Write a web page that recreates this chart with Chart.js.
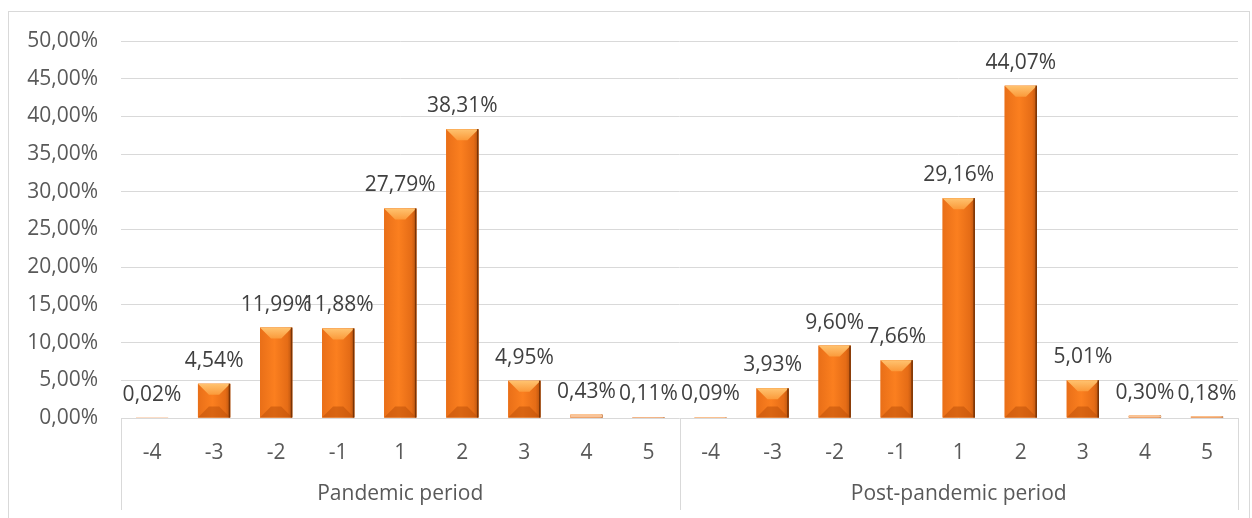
<!DOCTYPE html>
<html>
<head>
<meta charset="utf-8">
<script src="https://cdn.jsdelivr.net/npm/chart.js@4/dist/chart.umd.min.js"></script>
<style>
  html, body { margin: 0; padding: 0; background: #fff; }
  #wrap { width: 1252px; height: 518px; position: relative; }
</style>
</head>
<body>
<div id="wrap"><canvas id="chart" width="1252" height="518"></canvas></div>
<script>
// data
var categories = ["-4", "-3", "-2", "-1", "1", "2", "3", "4", "5"];
var groups = ["Pandemic period", "Post-pandemic period"];
var pandemicValues = [0.02, 4.54, 11.99, 11.88, 27.79, 38.31, 4.95, 0.43, 0.11];
var postValues = [0.09, 3.93, 9.60, 7.66, 29.16, 44.07, 5.01, 0.30, 0.18];
var yTicks = [0, 5, 10, 15, 20, 25, 30, 35, 40, 45, 50];

var FONT = "'Open Sans', sans-serif";

function pct(v) {
    return v.toFixed(2).replace(".", ",") + "%";
}

var labels = categories.concat(categories);
var values = pandemicValues.concat(postValues);

/*
** Outer frame, bar shading, value labels and the group axis
*/
var decor = {
    id: "decor",
    beforeDraw: function (chart) {
        var c = chart.ctx;
        c.save();
        c.strokeStyle = "#d9d9d9";
        c.lineWidth = 1;
        c.strokeRect(8.5, 11.5, 1241, 560);
        c.restore();
    },
    afterDatasetsDraw: function (chart) {
        var c = chart.ctx;
        var bars = chart.getDatasetMeta(0).data;
        c.save();
        bars.forEach(function (bar, i) {
            var w = bar.width, l = bar.x - w / 2, r = bar.x + w / 2;
            var top = bar.y, base = bar.base, h = base - top;
            if (h <= 0) return;
            // body gradient
            var g = c.createLinearGradient(l, 0, r, 0);
            g.addColorStop(0, "#e96f18");
            g.addColorStop(0.45, "#fb7f1f");
            g.addColorStop(0.85, "#e56c16");
            g.addColorStop(1, "#b9540f");
            c.fillStyle = g;
            c.fillRect(l, top, w, h);
            var b = Math.min(11, h / 2);
            // top bevel
            var gt = c.createLinearGradient(0, top, 0, top + b);
            gt.addColorStop(0, "#ffc370");
            gt.addColorStop(1, "#fb9a3a");
            c.fillStyle = gt;
            c.beginPath();
            c.moveTo(l, top);
            c.lineTo(r, top);
            c.lineTo(r - b, top + b);
            c.lineTo(l + b, top + b);
            c.closePath();
            c.fill();
            // bottom bevel
            c.fillStyle = "rgba(190,80,10,0.55)";
            c.beginPath();
            c.moveTo(l, base);
            c.lineTo(r, base);
            c.lineTo(r - b, base - b);
            c.lineTo(l + b, base - b);
            c.closePath();
            c.fill();
            // dark right edge
            c.fillStyle = "#7a3406";
            c.fillRect(r - 1.5, top, 1.5, h);
            if (h < 5) {
                c.fillStyle = "#f8c49a";
                c.fillRect(l, top, w, h);
            }
        });
        // value labels
        c.fillStyle = "#404040";
        c.font = "21px " + FONT;
        c.textAlign = "center";
        c.textBaseline = "alphabetic";
        bars.forEach(function (bar, i) {
            c.fillText(pct(values[i]), bar.x, bar.y - 17);
        });
        c.restore();
    },
    afterDraw: function (chart) {
        var c = chart.ctx;
        var area = chart.chartArea;
        var x = chart.scales.x;
        var n = categories.length;
        c.save();
        c.strokeStyle = "#d9d9d9";
        c.lineWidth = 1;
        var edges = [area.left, (area.left + area.right) / 2, area.right];
        edges.forEach(function (ex) {
            var px = Math.round(ex) + 0.5;
            c.beginPath();
            c.moveTo(px, area.bottom);
            c.lineTo(px, 510);
            c.stroke();
        });
        c.fillStyle = "#595959";
        c.font = "21px " + FONT;
        c.textAlign = "center";
        c.textBaseline = "middle";
        groups.forEach(function (name, gi) {
            var cx = (x.getPixelForValue(gi * n) + x.getPixelForValue(gi * n + n - 1)) / 2;
            c.fillText(name, cx, 494);
        });
        c.restore();
    }
};

var chart = new Chart(document.getElementById("chart"), {
    type: "bar",
    data: {
        labels: labels,
        datasets: [{
            data: values,
            backgroundColor: "#f27a1e",
            borderWidth: 0,
            barPercentage: 0.52,
            categoryPercentage: 1
        }]
    },
    options: {
        responsive: false,
        animation: false,
        layout: { padding: { top: 41, right: 14, bottom: 0, left: 0 } },
        plugins: {
            legend: { display: false },
            tooltip: { enabled: false }
        },
        scales: {
            x: {
                grid: { display: false, drawTicks: false },
                border: { display: false },
                ticks: {
                    color: "#595959",
                    font: { family: FONT, size: 21 },
                    padding: 22,
                    maxRotation: 0,
                    autoSkip: false
                },
                afterFit: function (scale) { scale.height = 100; }
            },
            y: {
                min: yTicks[0],
                max: yTicks[yTicks.length - 1],
                grid: { color: "#d9d9d9", lineWidth: 1, drawTicks: false },
                border: { display: false },
                ticks: {
                    stepSize: yTicks[1] - yTicks[0],
                    color: "#595959",
                    font: { family: FONT, size: 21 },
                    padding: 23,
                    callback: function (v) { return pct(v); }
                },
                afterFit: function (scale) { scale.width = 121; }
            }
        }
    },
    plugins: [decor]
});
</script>
</body>
</html>
